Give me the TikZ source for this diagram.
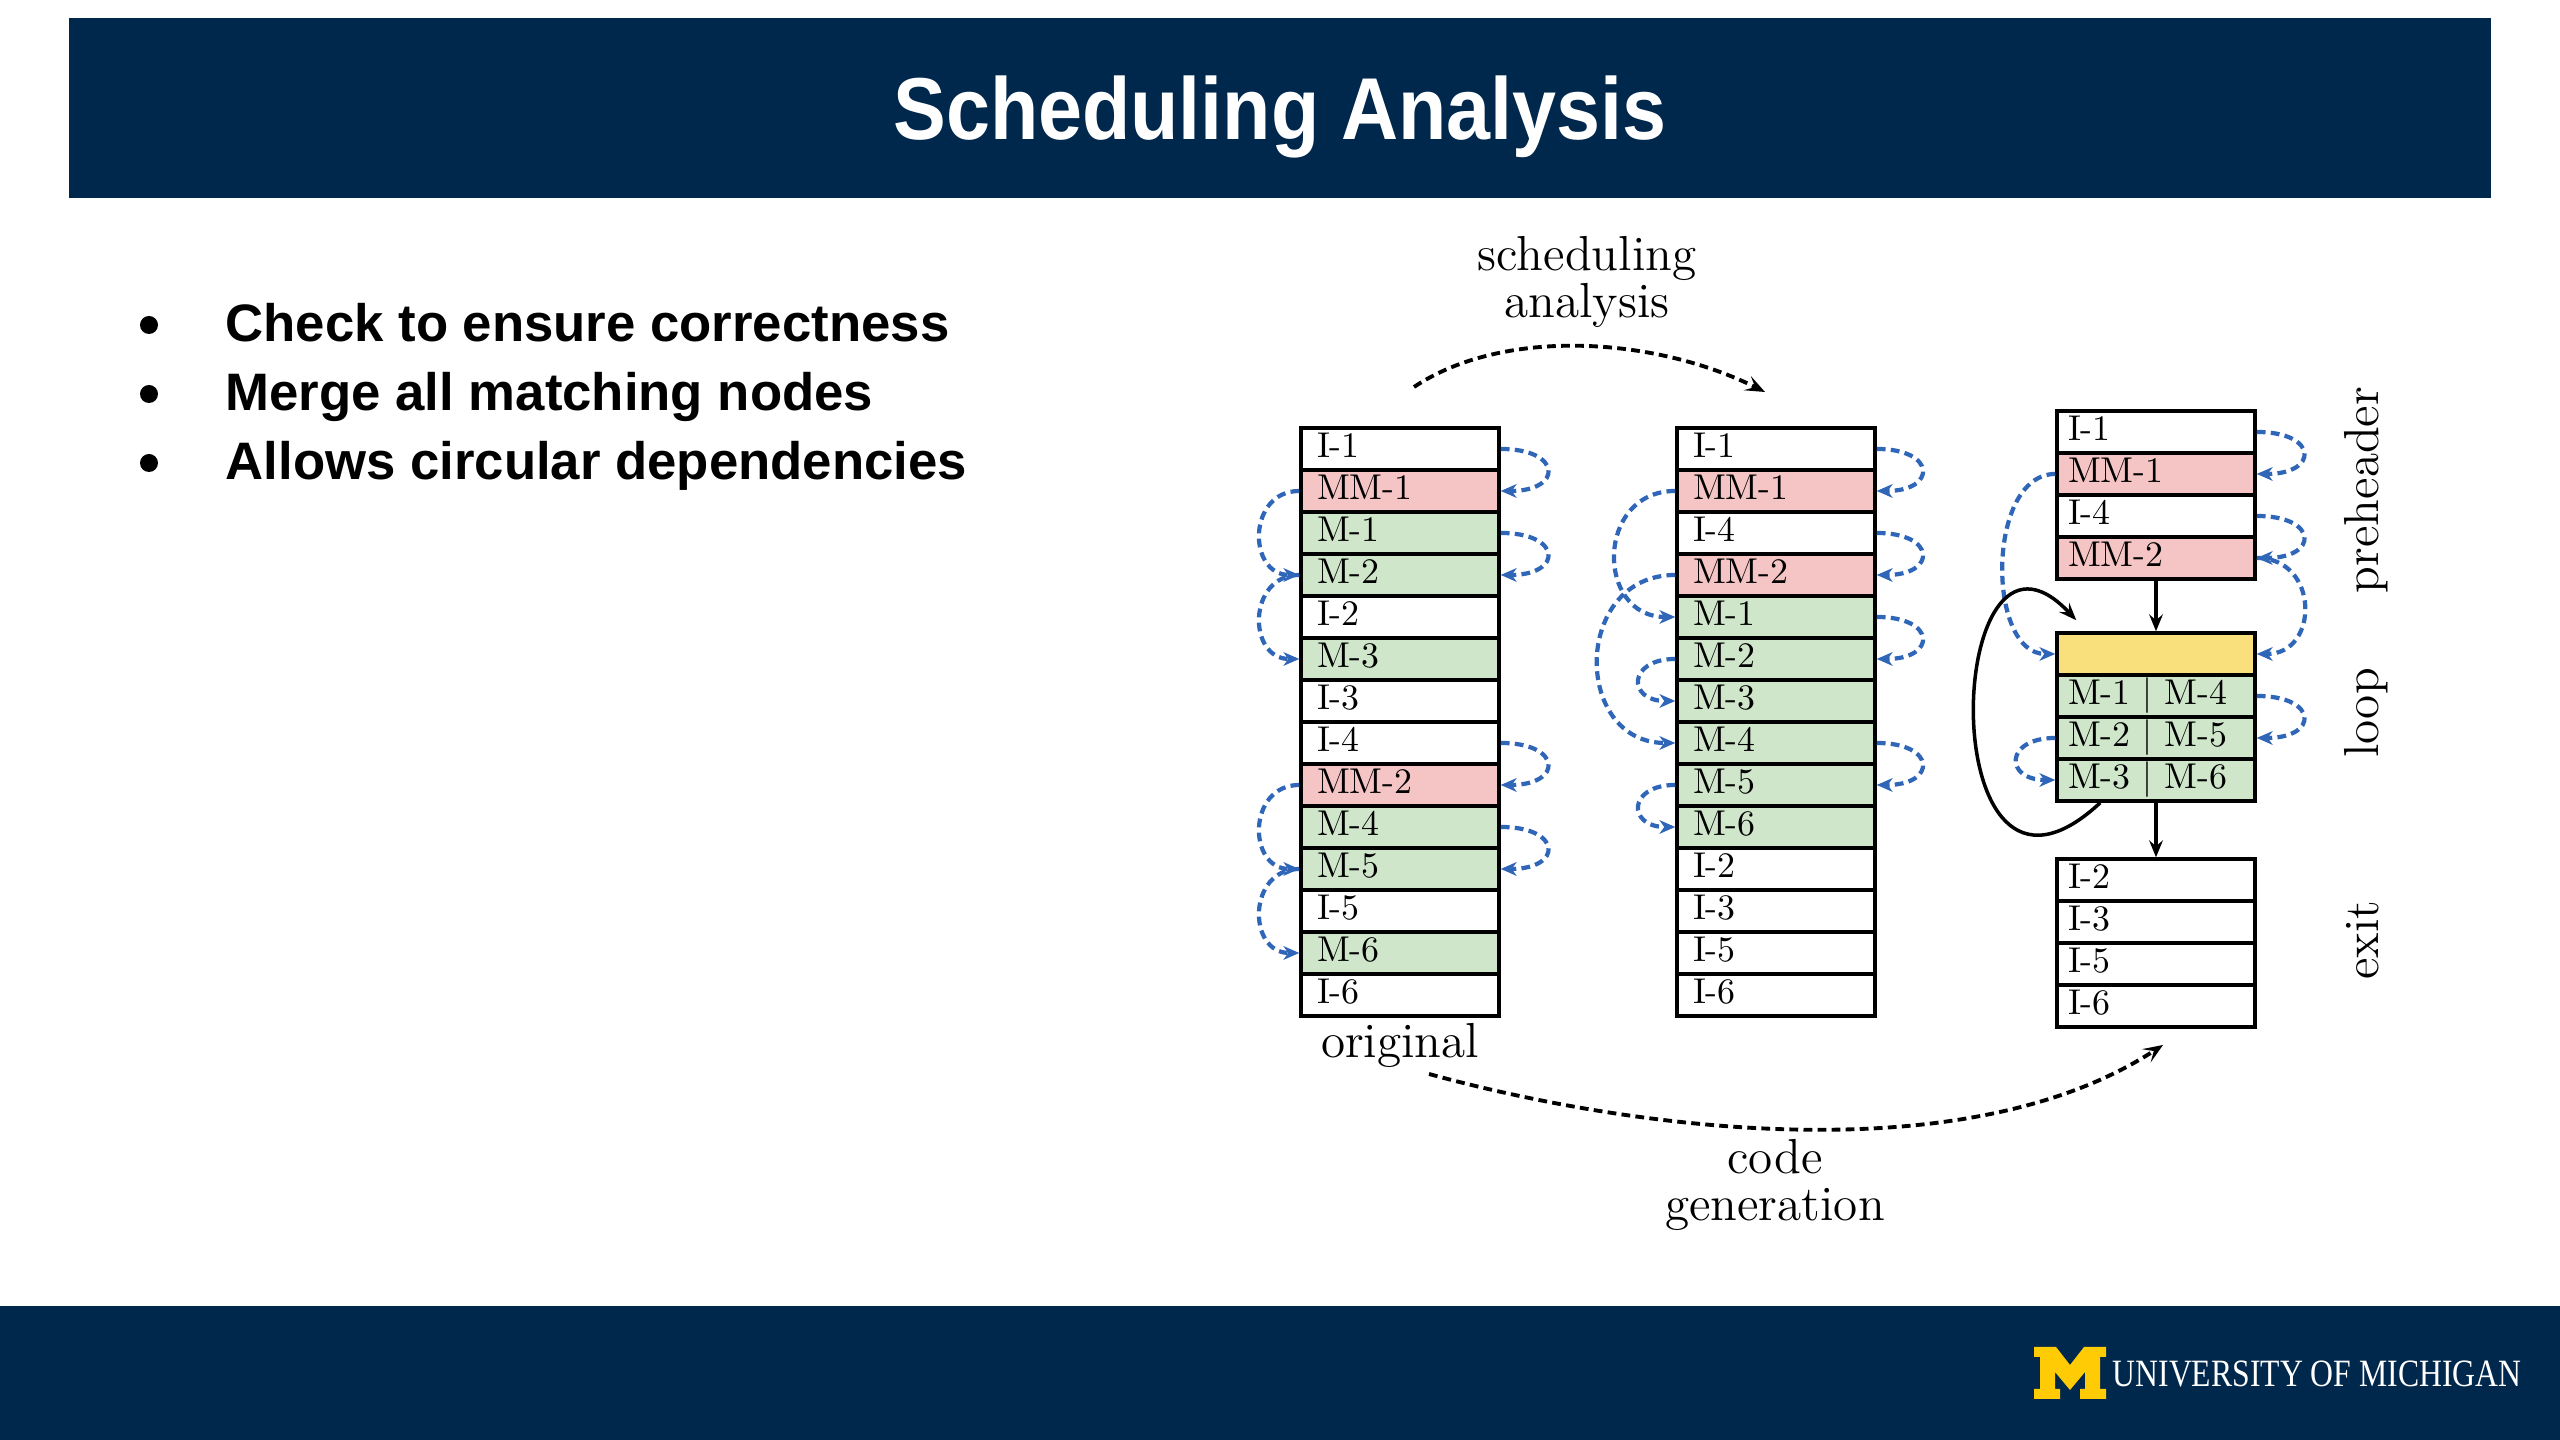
\documentclass[tikz,border=0pt]{standalone}
\usepackage{fontspec}
\usepackage{graphicx}
\newfontfamily\slidefont{Liberation Sans}
\newfontfamily\logofont{Liberation Serif}
\definecolor{umblue}{HTML}{00274C}
\definecolor{maize}{HTML}{FFCB05}
\definecolor{mmpink}{HTML}{F5C4C4}
\definecolor{mgreen}{HTML}{CFE6CA}
\definecolor{hdyellow}{HTML}{FAE07C}
\definecolor{depblue}{HTML}{2F66B8}
\begin{document}
\begin{tikzpicture}[x=0.1mm,y=0.1mm,
  row/.style={draw=black,line width=1pt,minimum height=4.2mm,text width=16.6mm,inner xsep=1.6mm,inner ysep=0pt,align=left,text height=7pt,text depth=2pt,font=\fontsize{10.2}{12}\selectfont},
  prow/.style={row,text width=17.6mm,inner xsep=1.1mm},
  mov/.style={fill=mgreen},
  mmov/.style={fill=mmpink},
  dep/.style={draw=depblue,line width=1.2pt,dash pattern=on 2.5pt off 1.5pt,shorten >=1mm},
  arrowhead/.style={fill=depblue},
  flow/.style={draw=black,line width=1.1pt,dash pattern=on 2.5pt off 1.5pt,shorten >=1mm},
  ctl/.style={draw=black,line width=1pt,shorten >=1mm},
  note/.style={font=\fontsize{14}{13.4}\selectfont,align=center},
  bullettext/.style={anchor=base west,font=\slidefont\bfseries\fontsize{15}{18}\selectfont},
  bulletdot/.style={circle,fill=black,minimum size=1.8mm}]
\tikzstyle{every node}+=[inner sep=0pt]
\useasboundingbox (0,0) rectangle (2560,1440);
\fill[white] (0,0) rectangle (2560,1440);
\fill[umblue] (69,1242) rectangle (2491,1422);
\fill[umblue] (0,0) rectangle (2560,134);
\node[anchor=base,text=white,font=\slidefont\bfseries\fontsize{25}{30}\selectfont] (title) at (1280,1300) {\scalebox{0.9}[1]{Scheduling Analysis}};
\node[bulletdot] (b1) at (149,1115) {};
\node[bullettext] (t1) at (225,1098) {Check to ensure correctness};
\node[bulletdot] (b2) at (149,1046) {};
\node[bullettext] (t2) at (225,1029) {Merge all matching nodes};
\node[bulletdot] (b3) at (149,977) {};
\node[bullettext] (t3) at (225,960) {Allows circular dependencies};
\fill[maize,shift={(2034,41)}] (0,0) -- (26,0) -- (26,10) -- (21,10) -- (21,27) -- (36,9) -- (51,27) -- (51,10) -- (46,10) -- (46,0) -- (72,0) -- (72,10) -- (66,10) -- (66,42) -- (72,42) -- (72,52) -- (50,52) -- (36,34) -- (22,52) -- (0,52) -- (0,42) -- (6,42) -- (6,10) -- (0,10) -- cycle;
\node[anchor=base west,text=white,font=\logofont\fontsize{11}{13}\selectfont] (um) at (2112,53) {\scalebox{0.82}[1]{UNIVERSITY OF MICHIGAN}};
\node[row] (o1) at (1400,991) {I-1};
\node[row,mmov] (o2) at (1400,949) {MM-1};
\node[row,mov] (o3) at (1400,907) {M-1};
\node[row,mov] (o4) at (1400,865) {M-2};
\node[row] (o5) at (1400,823) {I-2};
\node[row,mov] (o6) at (1400,781) {M-3};
\node[row] (o7) at (1400,739) {I-3};
\node[row] (o8) at (1400,697) {I-4};
\node[row,mmov] (o9) at (1400,655) {MM-2};
\node[row,mov] (o10) at (1400,613) {M-4};
\node[row,mov] (o11) at (1400,571) {M-5};
\node[row] (o12) at (1400,529) {I-5};
\node[row,mov] (o13) at (1400,487) {M-6};
\node[row] (o14) at (1400,445) {I-6};
\node[row] (s1) at (1776,991) {I-1};
\node[row,mmov] (s2) at (1776,949) {MM-1};
\node[row] (s3) at (1776,907) {I-4};
\node[row,mmov] (s4) at (1776,865) {MM-2};
\node[row,mov] (s5) at (1776,823) {M-1};
\node[row,mov] (s6) at (1776,781) {M-2};
\node[row,mov] (s7) at (1776,739) {M-3};
\node[row,mov] (s8) at (1776,697) {M-4};
\node[row,mov] (s9) at (1776,655) {M-5};
\node[row,mov] (s10) at (1776,613) {M-6};
\node[row] (s11) at (1776,571) {I-2};
\node[row] (s12) at (1776,529) {I-3};
\node[row] (s13) at (1776,487) {I-5};
\node[row] (s14) at (1776,445) {I-6};
\node[prow] (p1) at (2156,1008) {I-1};
\node[prow,mmov] (p2) at (2156,966) {MM-1};
\node[prow] (p3) at (2156,924) {I-4};
\node[prow,mmov] (p4) at (2156,882) {MM-2};
\node[prow,fill=hdyellow] (l1) at (2156,786) {};
\node[prow,mov] (l2) at (2156,744) {M-1 | M-4};
\node[prow,mov] (l3) at (2156,702) {M-2 | M-5};
\node[prow,mov] (l4) at (2156,660) {M-3 | M-6};
\node[prow] (e1) at (2156,560) {I-2};
\node[prow] (e2) at (2156,518) {I-3};
\node[prow] (e3) at (2156,476) {I-5};
\node[prow] (e4) at (2156,434) {I-6};
\draw[dep] (o1.east) .. controls +(62,0) and +(62,0) .. (o2.east);
\fill[arrowhead] (o2.east) -- +(16,7) -- +(11,0) -- +(16,-7) -- cycle;
\draw[dep] (o3.east) .. controls +(62,0) and +(62,0) .. (o4.east);
\fill[arrowhead] (o4.east) -- +(16,7) -- +(11,0) -- +(16,-7) -- cycle;
\draw[dep] (o8.east) .. controls +(62,0) and +(62,0) .. (o9.east);
\fill[arrowhead] (o9.east) -- +(16,7) -- +(11,0) -- +(16,-7) -- cycle;
\draw[dep] (o10.east) .. controls +(62,0) and +(62,0) .. (o11.east);
\fill[arrowhead] (o11.east) -- +(16,7) -- +(11,0) -- +(16,-7) -- cycle;
\draw[dep] (o2.west) .. controls +(-52,0) and +(-52,0) .. (o4.west);
\fill[arrowhead] (o4.west) -- +(-16,7) -- +(-11,0) -- +(-16,-7) -- cycle;
\draw[dep] (o4.west) .. controls +(-52,0) and +(-52,0) .. (o6.west);
\fill[arrowhead] (o6.west) -- +(-16,7) -- +(-11,0) -- +(-16,-7) -- cycle;
\draw[dep] (o9.west) .. controls +(-52,0) and +(-52,0) .. (o11.west);
\fill[arrowhead] (o11.west) -- +(-16,7) -- +(-11,0) -- +(-16,-7) -- cycle;
\draw[dep] (o11.west) .. controls +(-52,0) and +(-52,0) .. (o13.west);
\fill[arrowhead] (o13.west) -- +(-16,7) -- +(-11,0) -- +(-16,-7) -- cycle;
\draw[dep] (s1.east) .. controls +(60,0) and +(60,0) .. (s2.east);
\fill[arrowhead] (s2.east) -- +(16,7) -- +(11,0) -- +(16,-7) -- cycle;
\draw[dep] (s3.east) .. controls +(60,0) and +(60,0) .. (s4.east);
\fill[arrowhead] (s4.east) -- +(16,7) -- +(11,0) -- +(16,-7) -- cycle;
\draw[dep] (s5.east) .. controls +(60,0) and +(60,0) .. (s6.east);
\fill[arrowhead] (s6.east) -- +(16,7) -- +(11,0) -- +(16,-7) -- cycle;
\draw[dep] (s8.east) .. controls +(60,0) and +(60,0) .. (s9.east);
\fill[arrowhead] (s9.east) -- +(16,7) -- +(11,0) -- +(16,-7) -- cycle;
\draw[dep] (s2.west) .. controls +(-80,0) and +(-80,0) .. (s5.west);
\fill[arrowhead] (s5.west) -- +(-16,7) -- +(-11,0) -- +(-16,-7) -- cycle;
\draw[dep] (s4.west) .. controls +(-103,0) and +(-103,0) .. (s8.west);
\fill[arrowhead] (s8.west) -- +(-16,7) -- +(-11,0) -- +(-16,-7) -- cycle;
\draw[dep] (s6.west) .. controls +(-48,0) and +(-48,0) .. (s7.west);
\fill[arrowhead] (s7.west) -- +(-16,7) -- +(-11,0) -- +(-16,-7) -- cycle;
\draw[dep] (s9.west) .. controls +(-48,0) and +(-48,0) .. (s10.west);
\fill[arrowhead] (s10.west) -- +(-16,7) -- +(-11,0) -- +(-16,-7) -- cycle;
\draw[dep] (p1.east) .. controls +(62,0) and +(62,0) .. (p2.east);
\fill[arrowhead] (p2.east) -- +(16,7) -- +(11,0) -- +(16,-7) -- cycle;
\draw[dep] (p3.east) .. controls +(62,0) and +(62,0) .. (p4.east);
\fill[arrowhead] (p4.east) -- +(16,7) -- +(11,0) -- +(16,-7) -- cycle;
\draw[dep] (p4.east) .. controls +(63,0) and +(63,0) .. (l1.east);
\fill[arrowhead] (l1.east) -- +(16,7) -- +(11,0) -- +(16,-7) -- cycle;
\draw[dep] (l2.east) .. controls +(62,0) and +(62,0) .. (l3.east);
\fill[arrowhead] (l3.east) -- +(16,7) -- +(11,0) -- +(16,-7) -- cycle;
\draw[dep] (p2.west) .. controls +(-69,0) and +(-69,0) .. (l1.west);
\fill[arrowhead] (l1.west) -- +(-16,7) -- +(-11,0) -- +(-16,-7) -- cycle;
\draw[dep] (l3.west) .. controls +(-51,0) and +(-51,0) .. (l4.west);
\fill[arrowhead] (l4.west) -- +(-16,7) -- +(-11,0) -- +(-16,-7) -- cycle;
\draw[ctl] (p4.south) -- (l1.north);
\fill (l1.north) -- +(-7,17) -- +(0,11) -- +(7,17) -- cycle;
\draw[ctl] (l4.south) -- (e1.north);
\fill (e1.north) -- +(-7,17) -- +(0,11) -- +(7,17) -- cycle;
\draw[ctl] ([xshift=4.5mm]l4.south west) .. controls +(-171,-159) and +(-133,142) .. ([xshift=2.1mm,yshift=1.1mm]l1.north west);
\fill ([xshift=2.1mm,yshift=1.1mm]l1.north west) -- +(-7.2,17.9) -- +(-7.4,7.9) -- +(-17.4,8.3) -- cycle;
\node[note] (sched) at (1587,1158) {scheduling\\analysis};
\node[note,anchor=base] (orig) at (1400,382) {original};
\node[note] (codegen) at (1775,255) {code\\generation};
\node[note,rotate=90,anchor=base] (pre) at (2378,950) {preheader};
\node[note,rotate=90,anchor=base] (lp) at (2378,727) {loop};
\node[note,rotate=90,anchor=base] (ex) at (2378,500) {exit};
\coordinate (sa) at (1414,1053);
\coordinate (sb) at (1765,1048);
\coordinate (ca) at (1429,366);
\coordinate (cb) at (2163,395);
\draw[flow] (sa) .. controls +(90,60) and +(-110,55) .. (sb);
\fill (sb) -- +(-14.3,16.1) -- +(-9.8,4.9) -- +(-21.5,1.7) -- cycle;
\draw[flow] (ca) .. controls +(200,-55) and +(-200,-130) .. (cb);
\fill (cb) -- +(-21.2,-4.2) -- +(-9.2,-6.0) -- +(-12.4,-17.6) -- cycle;
\end{tikzpicture}
\end{document}
